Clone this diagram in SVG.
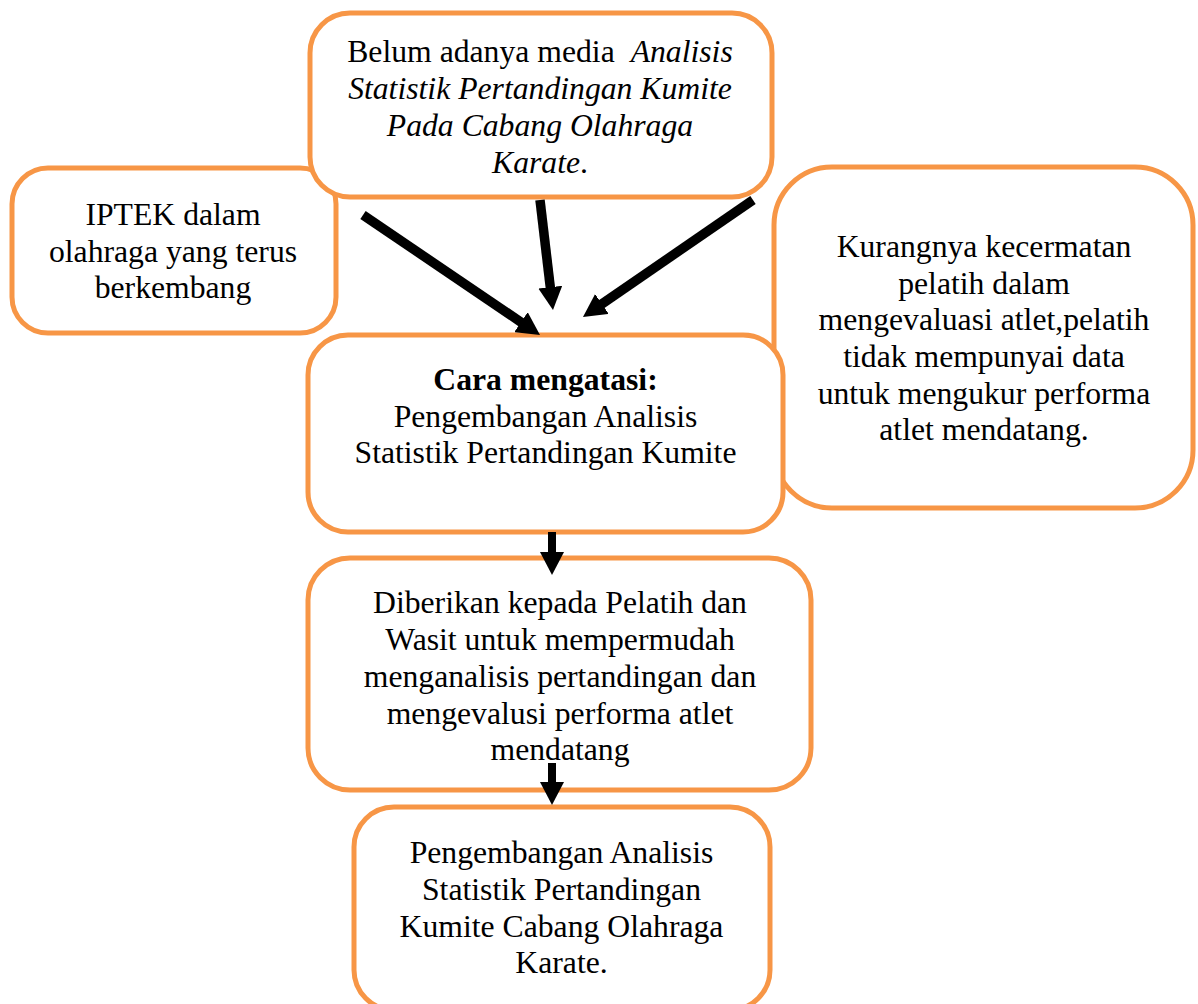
<svg xmlns="http://www.w3.org/2000/svg" width="1198" height="1004" viewBox="0 0 1198 1004">
<style>
.box{fill:#FFFFFF;stroke:#F79646;stroke-width:5}
.t{font-family:"Liberation Serif","Times New Roman",serif;font-size:31.7px;fill:#000000;text-anchor:middle}
.i{font-style:italic}
.b{font-weight:bold}
.arr{stroke:#000000;stroke-width:9.5;fill:none;marker-end:url(#head)}
</style>
<defs>
<marker id="head" viewBox="0 0 23 24" refX="1" refY="12" markerWidth="23" markerHeight="24" markerUnits="userSpaceOnUse" orient="auto">
<path d="M0,0 L23,12 L0,24 Z" fill="#000000"/>
</marker>
</defs>
<rect width="1198" height="1004" fill="#FFFFFF"/>
<g id="node-kurangnya">
<rect class="box" x="774" y="167" width="419" height="341" rx="58" ry="58"/>
<text class="t"><tspan x="984" y="257">Kurangnya kecermatan</tspan><tspan x="984" y="293.5">pelatih dalam</tspan><tspan x="984" y="330">mengevaluasi atlet,pelatih</tspan><tspan x="984" y="367">tidak mempunyai data</tspan><tspan x="984" y="403.5">untuk mengukur performa</tspan><tspan x="984" y="440">atlet mendatang.</tspan></text>
</g>
<g id="node-iptek">
<rect class="box" x="12" y="168" width="324" height="165" rx="36" ry="36"/>
<text class="t"><tspan x="173" y="225">IPTEK dalam</tspan><tspan x="173" y="261.5">olahraga yang terus</tspan><tspan x="173" y="298">berkembang</tspan></text>
</g>
<g id="node-belum">
<rect class="box" x="310" y="13" width="462" height="184" rx="40" ry="40"/>
<text class="t"><tspan x="540" y="62">Belum adanya media </tspan><tspan class="i" dx="8">Analisis</tspan><tspan class="i" x="540" y="99">Statistik Pertandingan Kumite</tspan><tspan class="i" x="540" y="136">Pada Cabang Olahraga</tspan><tspan x="540" y="173"><tspan class="i">Karate</tspan>.</tspan></text>
</g>
<g id="node-cara">
<rect class="box" x="308" y="335" width="475" height="197" rx="40" ry="40"/>
<text class="t"><tspan class="b" x="545.5" y="390">Cara mengatasi:</tspan><tspan x="545.5" y="426.5">Pengembangan Analisis</tspan><tspan x="545.5" y="463">Statistik Pertandingan Kumite</tspan></text>
</g>
<g id="node-diberikan">
<rect class="box" x="308" y="558" width="503" height="232" rx="42" ry="42"/>
<text class="t"><tspan x="560" y="613">Diberikan kepada Pelatih dan</tspan><tspan x="560" y="650">Wasit untuk mempermudah</tspan><tspan x="560" y="687">menganalisis pertandingan dan</tspan><tspan x="560" y="723.5">mengevalusi performa atlet</tspan><tspan x="560" y="760">mendatang</tspan></text>
</g>
<g id="node-pengembangan">
<rect class="box" x="354" y="807" width="416" height="203" rx="40" ry="40"/>
<text class="t"><tspan x="561.5" y="863">Pengembangan Analisis</tspan><tspan x="561.5" y="900">Statistik Pertandingan</tspan><tspan x="561.5" y="937">Kumite Cabang Olahraga</tspan><tspan x="561.5" y="973">Karate.</tspan></text>
</g>
<g id="connectors">
<line class="arr" x1="363" y1="215" x2="521.8" y2="322.7"/>
<line class="arr" x1="540" y1="200" x2="550.4" y2="288.2"/>
<line class="arr" x1="753" y1="200" x2="601.1" y2="304.5"/>
<line class="arr" style="stroke-width:8" x1="552" y1="532" x2="552" y2="553"/>
<line class="arr" style="stroke-width:8" x1="552" y1="763" x2="552" y2="783"/>
</g>
</svg>
